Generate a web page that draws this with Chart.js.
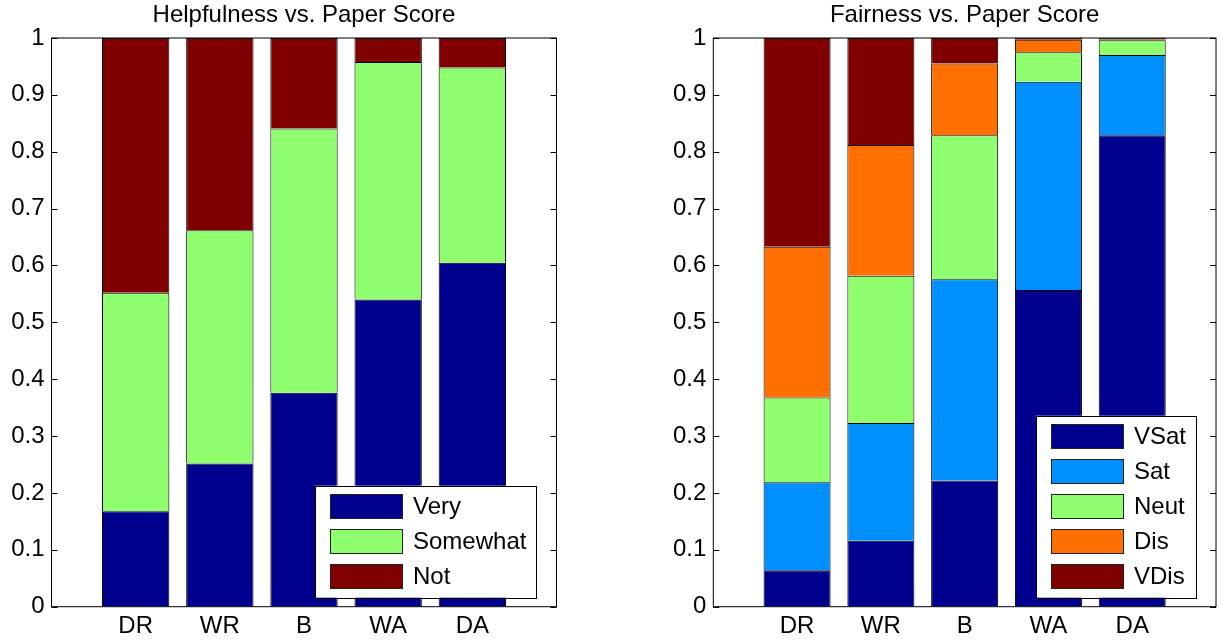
<!DOCTYPE html>
<html><head><meta charset="utf-8">
<script src="https://cdn.jsdelivr.net/npm/chart.js@4.4.0/dist/chart.umd.min.js"></script>
<style>
html,body{margin:0;padding:0;background:#fff;overflow:hidden;}
#wrap{position:relative;width:1221px;height:640px;}
.c{position:absolute;top:0;height:640px;}
</style></head><body>
<div id="wrap">
<div class="c" style="left:0;width:610px"><canvas id="c1"></canvas></div>
<div class="c" style="left:610px;width:611px"><canvas id="c2"></canvas></div>
</div>
<script>
// ---- data ----
const categories = ['DR', 'WR', 'B', 'WA', 'DA'];
const yTickLabels = ['0', '0.1', '0.2', '0.3', '0.4', '0.5', '0.6', '0.7', '0.8', '0.9', '1'];

const helpTitle = 'Helpfulness vs. Paper Score';
const helpLabels = ['Very', 'Somewhat', 'Not'];
const helpVery     = [0.168, 0.252, 0.376, 0.540, 0.605];
const helpSomewhat = [0.384, 0.410, 0.465, 0.418, 0.343];
const helpNot      = [0.448, 0.338, 0.159, 0.042, 0.052];

const fairTitle = 'Fairness vs. Paper Score';
const fairLabels = ['VSat', 'Sat', 'Neut', 'Dis', 'VDis'];
const fairVSat = [0.064, 0.116, 0.222, 0.557, 0.829];
const fairSat  = [0.155, 0.207, 0.354, 0.366, 0.141];
const fairNeut = [0.149, 0.259, 0.253, 0.052, 0.026];
const fairDis  = [0.265, 0.230, 0.126, 0.022, 0.002];
const fairVDis = [0.367, 0.188, 0.045, 0.003, 0.002];

const COL = {navy:'#00008F', blue:'#008FFF', green:'#8FFF70', orange:'#FF7000', red:'#800000'};
const FONT = '"Liberation Sans", Arial, Helvetica, sans-serif';

function pts(arr){ return arr.map((v,i)=>({x:i+1, y:v})); }

const decorPlugin = {
  id: 'decor',
  afterDatasetsDraw(chart, args, opts) {
    const ctx = chart.ctx, a = chart.chartArea;
    const ys = chart.scales.y;
    ctx.save();
    // frame
    ctx.strokeStyle = '#000'; ctx.lineWidth = 1;
    ctx.strokeRect(a.left, a.top, a.right - a.left, a.bottom - a.top);
    // inward y ticks
    ctx.beginPath();
    ys.ticks.forEach(t => {
      const y = Math.round(ys.getPixelForValue(t.value)) + 0.5;
      ctx.moveTo(a.left, y); ctx.lineTo(a.left + 6, y);
      ctx.moveTo(a.right, y); ctx.lineTo(a.right - 6, y);
    });
    ctx.stroke();
    // title
    ctx.fillStyle = '#000';
    ctx.font = '24px ' + FONT;
    ctx.textAlign = 'center'; ctx.textBaseline = 'alphabetic';
    ctx.fillText(opts.title, (a.left + a.right) / 2, 22);
    // legend
    const ds = chart.data.datasets;
    let maxW = 0;
    ds.forEach(d => { maxW = Math.max(maxW, ctx.measureText(d.label).width); });
    const padL = 15, sw = 73, sh = 25, gap = 10, rowH = 35;
    const w = padL + sw + gap + maxW + 10;
    const h = 8 + (ds.length - 1) * rowH + sh + 9;
    const bx = a.right - 20 - w, by = a.bottom - 9 - h;
    ctx.fillStyle = '#fff';
    ctx.fillRect(bx, by, w, h);
    ctx.strokeStyle = '#000';
    ctx.strokeRect(Math.round(bx) + 0.5, Math.round(by) + 0.5, Math.round(w), Math.round(h));
    ds.forEach((d, i) => {
      const ry = Math.round(by + 8 + i * rowH);
      const rx = Math.round(bx + padL);
      ctx.fillStyle = d.backgroundColor;
      ctx.fillRect(rx, ry, sw, sh);
      ctx.strokeStyle = '#222';
      ctx.strokeRect(rx + 0.5, ry + 0.5, sw - 1, sh - 1);
      ctx.fillStyle = '#000';
      ctx.textAlign = 'left'; ctx.textBaseline = 'middle';
      ctx.fillText(d.label, rx + sw + gap, ry + sh / 2 + 1);
    });
    ctx.restore();
  }
};

function makeChart(id, title, labels, series, colors, yWidth, padRight) {
  const datasets = series.map((s, i) => ({
    label: labels[i],
    data: pts(s),
    backgroundColor: colors[i],
    borderColor: '#000',
    borderWidth: 1,
    borderSkipped: 'start',
    categoryPercentage: 1.0,
    barPercentage: 0.8
  }));
  return new Chart(document.getElementById(id), {
    type: 'bar',
    data: { datasets },
    options: {
      responsive: true, maintainAspectRatio: false, animation: false, devicePixelRatio: 1,
      layout: { padding: { top: 38, right: padRight, left: 0, bottom: 0 } },
      plugins: { legend: { display: false }, tooltip: { enabled: false }, title: { display: false },
                 decor: { title } },
      scales: {
        x: {
          type: 'linear', stacked: true, min: 0, max: 6, offset: false,
          grid: { display: false, drawTicks: false }, border: { display: false },
          ticks: { stepSize: 1, autoSkip: false, maxRotation: 0, padding: 5, color: '#000',
                   font: { size: 24, family: FONT },
                   callback: (v) => categories[v - 1] !== undefined ? categories[v - 1] : '' },
          afterFit: (s) => { s.height = 33.3; }
        },
        y: {
          stacked: true, min: 0, max: 1,
          grid: { display: false, drawTicks: false }, border: { display: false },
          ticks: { stepSize: 0.1, padding: 7, color: '#000', font: { size: 24, family: FONT },
                   callback: (v, i) => yTickLabels[i] },
          afterFit: (s) => { s.width = yWidth; }
        }
      }
    },
    plugins: [decorPlugin]
  });
}

makeChart('c1', helpTitle, helpLabels, [helpVery, helpSomewhat, helpNot],
          [COL.navy, COL.green, COL.red], 51.5, 53.5);
makeChart('c2', fairTitle, fairLabels, [fairVSat, fairSat, fairNeut, fairDis, fairVDis],
          [COL.navy, COL.blue, COL.green, COL.orange, COL.red], 103.3, 3);
</script>
</body></html>
